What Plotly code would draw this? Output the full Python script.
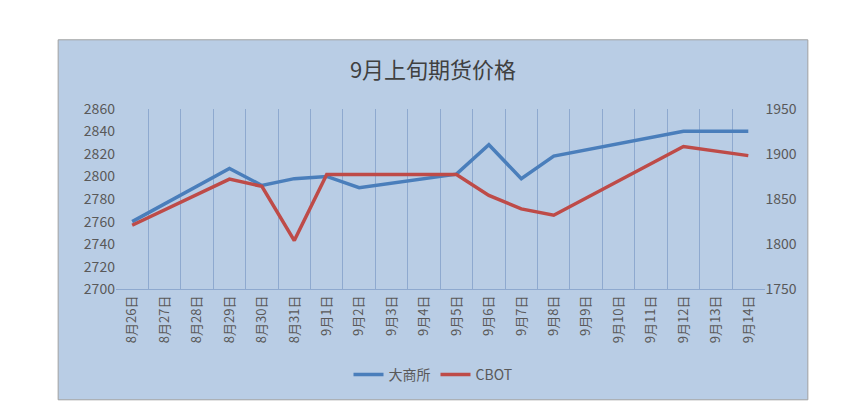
import plotly.graph_objects as go

dates = ["8月26日","8月27日","8月28日","8月29日","8月30日","8月31日","9月1日","9月2日","9月3日","9月4日","9月5日","9月6日","9月7日","9月8日","9月9日","9月10日","9月11日","9月12日","9月13日","9月14日"]
dalian = [2760,None,None,2807,2792,2798,2800,2790,None,None,2802,2828,2798,2818,None,None,None,2840,None,2840]
cbot = [1821,None,None,1872,1864,1804,1877,1877,None,None,1877,1854,1839,1832,None,None,None,1908,None,1898]

fig = go.Figure()
fig.add_trace(go.Scatter(x=dates, y=dalian, name="大商所", mode="lines", connectgaps=True,
                         line=dict(color="#4a7ebb", width=3.5)))
fig.add_trace(go.Scatter(x=dates, y=cbot, name="CBOT", mode="lines", connectgaps=True, yaxis="y2",
                         line=dict(color="#be4b48", width=3.5)))
font = "Noto Sans CJK SC"
fig.update_layout(
    width=850, height=420, margin=dict(l=0, r=0, t=0, b=0),
    paper_bgcolor="white", plot_bgcolor="#b9cde5",
    font=dict(family=font, color="#595959", size=14),
    title=dict(text="9月上旬期货价格", x=0.5, y=0.87, xanchor="center", font=dict(size=22, color="#404040")),
    xaxis=dict(domain=[0.127, 0.89], range=[-0.5, 19.5], tickangle=-90, tickson="boundaries",
               showgrid=True, gridcolor="#8ea9cf", ticks="", tickfont=dict(size=13),
               showline=True, linecolor="#8ea9cf"),
    yaxis=dict(domain=[0.324, 0.776], range=[2700, 2860], dtick=20, showgrid=False, tickfont=dict(size=14)),
    yaxis2=dict(overlaying="y", side="right", range=[1750, 1950], dtick=50, showgrid=False, tickfont=dict(size=14)),
    legend=dict(orientation="h", x=0.5, xanchor="center", y=0.11, yanchor="middle",
                bgcolor="rgba(0,0,0,0)", font=dict(size=14)),
    shapes=[dict(type="rect", xref="paper", yref="paper", x0=0.059, x1=0.941, y0=0.048, y1=0.948,
                 fillcolor="#b9cde5", line=dict(color="#a0a0a0", width=1), layer="below")],
)
fig.write_html("out.html")
